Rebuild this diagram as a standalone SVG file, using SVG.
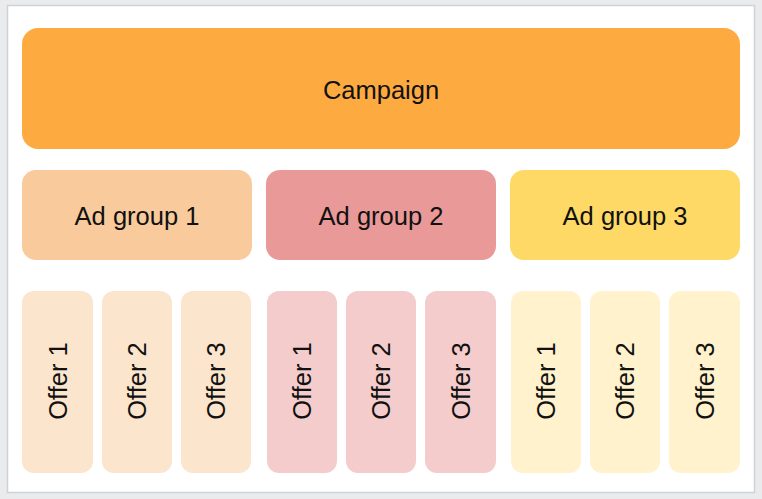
<svg xmlns="http://www.w3.org/2000/svg" width="762" height="499" viewBox="0 0 762 499">
<style>
text{font-family:"Liberation Sans",Arial,sans-serif;font-size:25.5px;fill:#111;text-anchor:middle;dominant-baseline:central}
.o1{fill:#fce5cd}.o2{fill:#f4cccc}.o3{fill:#fff2cc}
</style>
<rect x="0" y="0" width="762" height="499" fill="#e9ebed"/>
<rect x="7.5" y="5.5" width="747" height="487" fill="#fff" stroke="#d0d3d6" stroke-width="1.5"/>
<g id="campaign"><rect x="22" y="28" width="718" height="121" rx="16" fill="#fdab40"/><text x="381" y="90">Campaign</text></g>
<g id="adgroup1"><rect x="22" y="170" width="230" height="90" rx="14" fill="#f9cb9c"/><text x="137" y="216">Ad group 1</text></g>
<g id="adgroup2"><rect x="266" y="170" width="230" height="90" rx="14" fill="#ea9999"/><text x="381" y="216">Ad group 2</text></g>
<g id="adgroup3"><rect x="510" y="170" width="230" height="90" rx="14" fill="#ffd966"/><text x="625" y="216">Ad group 3</text></g>
<g id="offer1-1"><rect class="o1" x="22" y="291" width="71" height="182" rx="12"/><text transform="translate(57.5,381) rotate(-90)">Offer 1</text></g>
<g id="offer1-2"><rect class="o1" x="102" y="291" width="70" height="182" rx="12"/><text transform="translate(137,381) rotate(-90)">Offer 2</text></g>
<g id="offer1-3"><rect class="o1" x="181" y="291" width="70" height="182" rx="12"/><text transform="translate(216,381) rotate(-90)">Offer 3</text></g>
<g id="offer2-1"><rect class="o2" x="267" y="291" width="70" height="182" rx="12"/><text transform="translate(302,381) rotate(-90)">Offer 1</text></g>
<g id="offer2-2"><rect class="o2" x="346" y="291" width="70" height="182" rx="12"/><text transform="translate(381,381) rotate(-90)">Offer 2</text></g>
<g id="offer2-3"><rect class="o2" x="425" y="291" width="71" height="182" rx="12"/><text transform="translate(460.5,381) rotate(-90)">Offer 3</text></g>
<g id="offer3-1"><rect class="o3" x="511" y="291" width="70" height="182" rx="12"/><text transform="translate(546,381) rotate(-90)">Offer 1</text></g>
<g id="offer3-2"><rect class="o3" x="590" y="291" width="70" height="182" rx="12"/><text transform="translate(625,381) rotate(-90)">Offer 2</text></g>
<g id="offer3-3"><rect class="o3" x="669" y="291" width="71" height="182" rx="12"/><text transform="translate(704.5,381) rotate(-90)">Offer 3</text></g>
<g id="connectors"></g>
</svg>
